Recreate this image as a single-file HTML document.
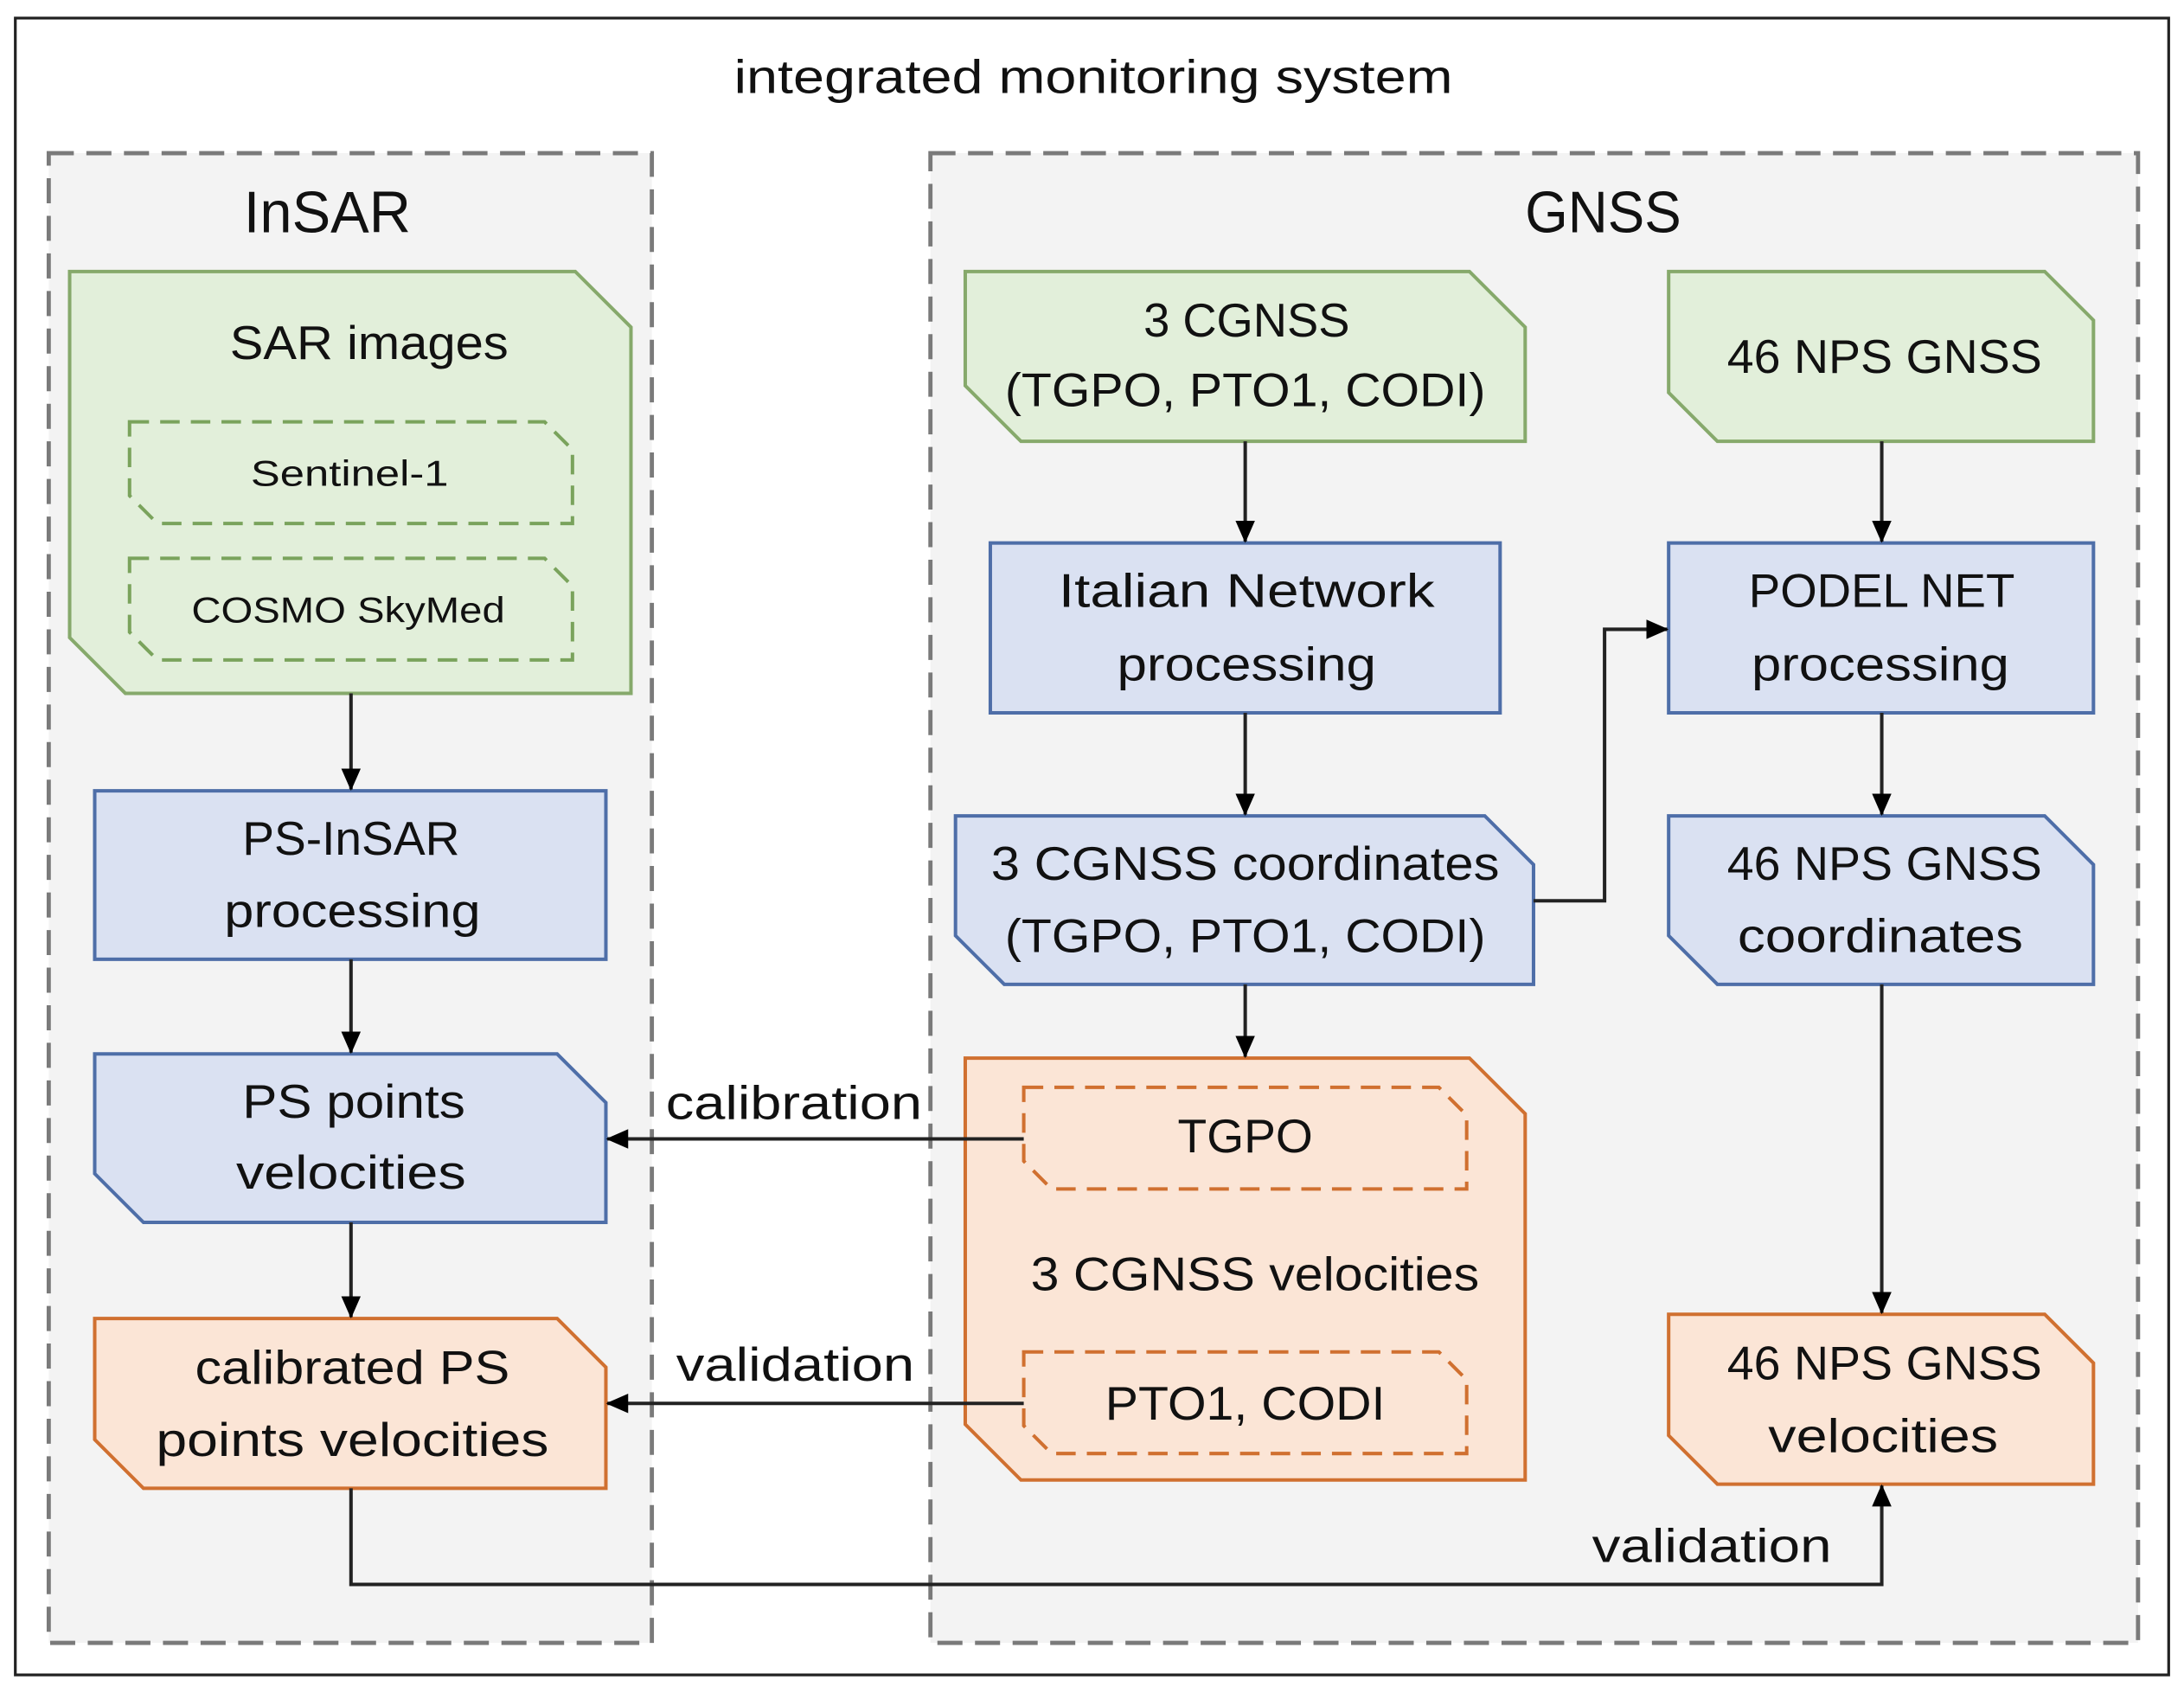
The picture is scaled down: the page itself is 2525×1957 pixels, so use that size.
<!DOCTYPE html>
<html><head><meta charset="utf-8"><style>
html,body{margin:0;padding:0;background:#fff;}
svg{display:block;}
text{font-family:"Liberation Sans",sans-serif;fill:#111;}
</style></head><body>
<svg width="2525" height="1957" viewBox="0 0 1568 1216" preserveAspectRatio="none" xmlns="http://www.w3.org/2000/svg">
<defs>
<marker id="ah" markerWidth="16" markerHeight="16" refX="15" refY="8" orient="auto" markerUnits="userSpaceOnUse"><path d="M0,1 L16,8 L0,15 Z" fill="#000"/></marker>
</defs>
<rect x="0" y="0" width="1568" height="1216" fill="#fff"/>
<rect x="11" y="13" width="1546" height="1190" fill="#fff" stroke="#222" stroke-width="2"/>
<text x="785" y="55" font-size="34" text-anchor="middle" dominant-baseline="central" textLength="516" lengthAdjust="spacingAndGlyphs">integrated monitoring system</text>

<rect x="35" y="110" width="433" height="1070" fill="#f3f3f3" stroke="#7a7a7a" stroke-width="3" stroke-dasharray="18,9"/>
<rect x="668" y="110" width="867" height="1070" fill="#f3f3f3" stroke="#7a7a7a" stroke-width="3" stroke-dasharray="18,9"/>
<text x="235" y="153" font-size="42" text-anchor="middle" dominant-baseline="central" textLength="120" lengthAdjust="spacingAndGlyphs">InSAR</text>
<text x="1151" y="153" font-size="42" text-anchor="middle" dominant-baseline="central" textLength="112" lengthAdjust="spacingAndGlyphs">GNSS</text>

<g stroke-width="2.5">
<path d="M50,195 H413 L453,235 V498 H90 L50,458 Z" fill="#e2efda" stroke="#86a96b"/>
<path d="M693,195 H1055 L1095,235 V317 H733 L693,277 Z" fill="#e2efda" stroke="#86a96b"/>
<path d="M1198,195 H1468 L1503,230 V317 H1233 L1198,282 Z" fill="#e2efda" stroke="#86a96b"/>
<path d="M93,303 H391 L411,323 V376 H113 L93,356 Z" fill="none" stroke="#7aa35c" stroke-dasharray="14,8"/>
<path d="M93,401 H391 L411,421 V474 H113 L93,454 Z" fill="none" stroke="#7aa35c" stroke-dasharray="14,8"/>
<rect x="68" y="568" width="367" height="121" fill="#dae1f2" stroke="#4e6ea8"/>
<rect x="711" y="390" width="366" height="122" fill="#dae1f2" stroke="#4e6ea8"/>
<rect x="1198" y="390" width="305" height="122" fill="#dae1f2" stroke="#4e6ea8"/>
<path d="M68,757 H400 L435,792 V878 H103 L68,843 Z" fill="#dae1f2" stroke="#4e6ea8"/>
<path d="M686,586 H1066 L1101,621 V707 H721 L686,672 Z" fill="#dae1f2" stroke="#4e6ea8"/>
<path d="M1198,586 H1468 L1503,621 V707 H1233 L1198,672 Z" fill="#dae1f2" stroke="#4e6ea8"/>
<path d="M68,947 H400 L435,982 V1069 H103 L68,1034 Z" fill="#fbe5d6" stroke="#d07030"/>
<path d="M693,760 H1055 L1095,800 V1063 H733 L693,1023 Z" fill="#fbe5d6" stroke="#d07030"/>
<path d="M1198,944 H1468 L1503,979 V1066 H1233 L1198,1031 Z" fill="#fbe5d6" stroke="#d07030"/>
<path d="M735,781 H1033 L1053,801 V854 H755 L735,834 Z" fill="none" stroke="#d07030" stroke-dasharray="14,8"/>
<path d="M735,971 H1033 L1053,991 V1044 H755 L735,1024 Z" fill="none" stroke="#d07030" stroke-dasharray="14,8"/>
</g>

<g stroke="#222" stroke-width="2.5" fill="none" marker-end="url(#ah)">
<line x1="252" y1="498" x2="252" y2="567"/>
<line x1="252" y1="689" x2="252" y2="756"/>
<line x1="252" y1="878" x2="252" y2="946"/>
<line x1="894" y1="317" x2="894" y2="389"/>
<line x1="894" y1="512" x2="894" y2="585"/>
<line x1="894" y1="707" x2="894" y2="759"/>
<line x1="1351" y1="317" x2="1351" y2="389"/>
<line x1="1351" y1="512" x2="1351" y2="585"/>
<line x1="1351" y1="707" x2="1351" y2="943"/>
<polyline points="1101,647 1152,647 1152,452 1197,452"/>
<line x1="735" y1="818" x2="436" y2="818"/>
<line x1="735" y1="1008" x2="436" y2="1008"/>
<polyline points="252,1069 252,1138 1351,1138 1351,1067"/>
</g>

<g font-size="34" text-anchor="middle" dominant-baseline="central" lengthAdjust="spacingAndGlyphs">
<text x="265" y="246" textLength="200" lengthAdjust="spacingAndGlyphs">SAR images</text>
<text x="251" y="340" font-size="26" textLength="142" lengthAdjust="spacingAndGlyphs">Sentinel-1</text>
<text x="250" y="438" font-size="26" textLength="225" lengthAdjust="spacingAndGlyphs">COSMO SkyMed</text>
<text x="252" y="602" textLength="156" lengthAdjust="spacingAndGlyphs">PS-InSAR</text>
<text x="253" y="654" textLength="184" lengthAdjust="spacingAndGlyphs">processing</text>
<text x="254" y="791" textLength="160" lengthAdjust="spacingAndGlyphs">PS points</text>
<text x="252" y="842" textLength="165" lengthAdjust="spacingAndGlyphs">velocities</text>
<text x="253" y="982" textLength="226" lengthAdjust="spacingAndGlyphs">calibrated PS</text>
<text x="253" y="1034" textLength="282" lengthAdjust="spacingAndGlyphs">points velocities</text>
<text x="570" y="792" textLength="184" lengthAdjust="spacingAndGlyphs">calibration</text>
<text x="571" y="980" textLength="171" lengthAdjust="spacingAndGlyphs">validation</text>
<text x="1229" y="1110" textLength="172" lengthAdjust="spacingAndGlyphs">validation</text>
<text x="895" y="230" textLength="148" lengthAdjust="spacingAndGlyphs">3 CGNSS</text>
<text x="894" y="280" textLength="345" lengthAdjust="spacingAndGlyphs">(TGPO, PTO1, CODI)</text>
<text x="1353" y="256" textLength="226" lengthAdjust="spacingAndGlyphs">46 NPS GNSS</text>
<text x="895" y="424" textLength="270" lengthAdjust="spacingAndGlyphs">Italian Network</text>
<text x="895" y="477" textLength="186" lengthAdjust="spacingAndGlyphs">processing</text>
<text x="1351" y="424" textLength="191" lengthAdjust="spacingAndGlyphs">PODEL NET</text>
<text x="1350" y="477" textLength="185" lengthAdjust="spacingAndGlyphs">processing</text>
<text x="894" y="620" textLength="365" lengthAdjust="spacingAndGlyphs">3 CGNSS coordinates</text>
<text x="894" y="672" textLength="345" lengthAdjust="spacingAndGlyphs">(TGPO, PTO1, CODI)</text>
<text x="1353" y="620" textLength="226" lengthAdjust="spacingAndGlyphs">46 NPS GNSS</text>
<text x="1350" y="672" textLength="205" lengthAdjust="spacingAndGlyphs">coordinates</text>
<text x="894" y="816" textLength="97" lengthAdjust="spacingAndGlyphs">TGPO</text>
<text x="901" y="915" textLength="322" lengthAdjust="spacingAndGlyphs">3 CGNSS velocities</text>
<text x="894" y="1008" textLength="201" lengthAdjust="spacingAndGlyphs">PTO1, CODI</text>
<text x="1353" y="979" textLength="226" lengthAdjust="spacingAndGlyphs">46 NPS GNSS</text>
<text x="1352" y="1031" textLength="165" lengthAdjust="spacingAndGlyphs">velocities</text>
</g>
</svg>
</body></html>
